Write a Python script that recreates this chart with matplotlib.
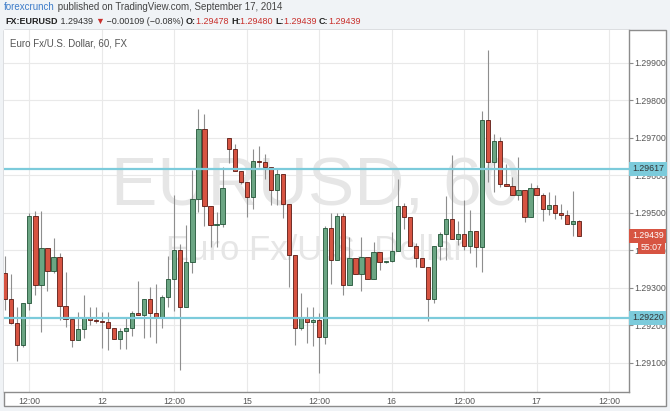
import matplotlib
matplotlib.use("Agg")
import matplotlib.pyplot as plt
from matplotlib.patches import Rectangle
from matplotlib.ticker import FormatStrFormatter
import matplotlib.transforms as mtransforms
import numpy as np

# ---------------- data (EUR/USD, 60 min candles) ----------------
opens = [1.29339, 1.29270, 1.29206, 1.29147, 1.29259, 1.29492, 1.29307, 1.29405, 1.29345, 1.29382,
         1.29252, 1.29216, 1.29160, 1.29191, 1.29222, 1.29215, 1.29212, 1.29210, 1.29193, 1.29163,
         1.29186, 1.29193, 1.29232, 1.29229, 1.29270, 1.29232, 1.29222, 1.29275, 1.29323, 1.29400,
         1.29249, 1.29369, 1.29537, 1.29722, 1.29518, 1.29468, 1.29469, 1.29699, 1.29671, 1.29611,
         1.29581, 1.29543, 1.29638, 1.29636, 1.29621, 1.29561, 1.29603, 1.29524, 1.29388, 1.29192,
         1.29221, 1.29210, 1.29215, 1.29170, 1.29459, 1.29373, 1.29492, 1.29309, 1.29379, 1.29337,
         1.29381, 1.29324, 1.29395, 1.29369, 1.29372, 1.29398, 1.29518, 1.29488, 1.29412, 1.29379,
         1.29355, 1.29271, 1.29412, 1.29443, 1.29483, 1.29430, 1.29444, 1.29412, 1.29451, 1.29408,
         1.29747, 1.29636, 1.29691, 1.29577, 1.29572, 1.29547, 1.29561, 1.29488, 1.29567, 1.29547,
         1.29510, 1.29520, 1.29499, 1.29493, 1.29469, 1.29478]
highs = [1.29385, 1.29337, 1.29250, 1.29259, 1.29500, 1.29506, 1.29506, 1.29405, 1.29433, 1.29393,
         1.29342, 1.29216, 1.29236, 1.29281, 1.29249, 1.29249, 1.29236, 1.29237, 1.29193, 1.29193,
         1.29223, 1.29239, 1.29318, 1.29270, 1.29302, 1.29310, 1.29281, 1.29385, 1.29547, 1.29417,
         1.29468, 1.29614, 1.29777, 1.29763, 1.29518, 1.29502, 1.29623, 1.29699, 1.29683, 1.29611,
         1.29581, 1.29669, 1.29678, 1.29656, 1.29621, 1.29616, 1.29603, 1.29524, 1.29388, 1.29287,
         1.29250, 1.29250, 1.29232, 1.29465, 1.29499, 1.29499, 1.29499, 1.29435, 1.29379, 1.29435,
         1.29381, 1.29422, 1.29395, 1.29372, 1.29450, 1.29589, 1.29525, 1.29488, 1.29419, 1.29379,
         1.29355, 1.29412, 1.29450, 1.29545, 1.29654, 1.29479, 1.29534, 1.29508, 1.29451, 1.29772,
         1.29934, 1.29710, 1.29703, 1.29630, 1.29596, 1.29648, 1.29561, 1.29580, 1.29573, 1.29552,
         1.29556, 1.29547, 1.29524, 1.29508, 1.29559, 1.29480]
lows = [1.29241, 1.29204, 1.29106, 1.29143, 1.29241, 1.29281, 1.29182, 1.29292, 1.29340, 1.29215,
        1.29197, 1.29143, 1.29160, 1.29167, 1.29201, 1.29207, 1.29141, 1.29134, 1.29163, 1.29136,
        1.29136, 1.29172, 1.29229, 1.29166, 1.29170, 1.29154, 1.29193, 1.29250, 1.29238, 1.29081,
        1.29249, 1.29341, 1.29502, 1.29466, 1.29408, 1.29410, 1.29461, 1.29632, 1.29611, 1.29576,
        1.29490, 1.29509, 1.29621, 1.29589, 1.29521, 1.29521, 1.29485, 1.29303, 1.29148, 1.29188,
        1.29152, 1.29145, 1.29074, 1.29151, 1.29310, 1.29373, 1.29280, 1.29309, 1.29337, 1.29293,
        1.29324, 1.29324, 1.29348, 1.29366, 1.29369, 1.29398, 1.29456, 1.29412, 1.29355, 1.29355,
        1.29213, 1.29260, 1.29374, 1.29374, 1.29430, 1.29414, 1.29401, 1.29392, 1.29357, 1.29343,
        1.29583, 1.29556, 1.29570, 1.29572, 1.29547, 1.29534, 1.29476, 1.29488, 1.29547, 1.29479,
        1.29494, 1.29483, 1.29484, 1.29469, 1.29439, 1.29439]
closes = [1.29270, 1.29206, 1.29147, 1.29259, 1.29492, 1.29307, 1.29405, 1.29345, 1.29382, 1.29252,
          1.29216, 1.29160, 1.29191, 1.29222, 1.29215, 1.29212, 1.29210, 1.29193, 1.29163, 1.29186,
          1.29193, 1.29232, 1.29229, 1.29270, 1.29232, 1.29222, 1.29275, 1.29323, 1.29400, 1.29249,
          1.29369, 1.29537, 1.29722, 1.29518, 1.29468, 1.29469, 1.29567, 1.29671, 1.29611, 1.29581,
          1.29543, 1.29638, 1.29636, 1.29621, 1.29561, 1.29603, 1.29524, 1.29388, 1.29192, 1.29221,
          1.29210, 1.29215, 1.29170, 1.29459, 1.29373, 1.29492, 1.29309, 1.29379, 1.29337, 1.29381,
          1.29324, 1.29395, 1.29369, 1.29372, 1.29398, 1.29518, 1.29488, 1.29412, 1.29379, 1.29355,
          1.29271, 1.29412, 1.29443, 1.29483, 1.29430, 1.29444, 1.29412, 1.29451, 1.29408, 1.29747,
          1.29636, 1.29691, 1.29577, 1.29572, 1.29547, 1.29561, 1.29488, 1.29567, 1.29547, 1.29510,
          1.29520, 1.29499, 1.29493, 1.29469, 1.29478, 1.29439]

time_tick_pos = [4, 16, 28, 40, 52, 64, 76, 88, 100]
time_tick_labels = ["12:00", "12", "12:00", "15", "12:00", "16", "12:00", "17", "12:00"]
price_ticks = [1.291, 1.292, 1.293, 1.294, 1.295, 1.296, 1.297, 1.298, 1.299]
level_lines = [1.29617, 1.29220]
last_price = 1.29439
countdown = "55:07"

# ---------------- figure ----------------
W, H = 670, 411
FONT = ["Liberation Sans", "DejaVu Sans"]
plt.rcParams["font.family"] = FONT

fig = plt.figure(figsize=(W / 100, H / 100), dpi=100)
fig.patch.set_facecolor("#f0f3f6")


def fx(px):
    return px / W


def fy(py):
    return 1 - py / H


frame = Rectangle((fx(4), fy(406)), fx(666) - fx(4), fy(30) - fy(406),
                  transform=fig.transFigure, facecolor="white",
                  edgecolor="#8c8c8c", lw=1.0, zorder=-5)
fig.patches.append(frame)

ax = fig.add_axes([fx(4), fy(392), (629 - 4) / W, (392 - 30) / H])
ax.set_zorder(1)
ax.set_facecolor("white")
for s in ["top", "left"]:
    ax.spines[s].set_visible(False)
for s in ["right", "bottom"]:
    ax.spines[s].set_color("#8c8c8c")
    ax.spines[s].set_linewidth(1.0)

o = np.array(opens)
h = np.array(highs)
l = np.array(lows)
c = np.array(closes)
x = np.arange(len(o))
up = c >= o
bottom = np.minimum(o, c)
height = np.maximum(np.abs(c - o), 0.000012)

# watermark
ax.text(0.499, 0.566, "EURUSD, 60", transform=ax.transAxes, ha="center", va="center",
        fontsize=50, color="#e6e6e6", zorder=1)
ax.text(0.499, 0.392, "Euro Fx/U.S. Dollar", transform=ax.transAxes, ha="center", va="center",
        fontsize=25, color="#e6e6e6", zorder=1)

ax.vlines(x, l, h, color="#8e8e8e", lw=0.8, zorder=3)
ax.bar(x[up], height[up], bottom=bottom[up], width=0.7, color="#6ba583",
       edgecolor="#225437", linewidth=0.6, zorder=4)
ax.bar(x[~up], height[~up], bottom=bottom[~up], width=0.7, color="#d75442",
       edgecolor="#5b1a13", linewidth=0.6, zorder=4)

for lv in level_lines:
    ax.axhline(lv, color="#7ccbdb", lw=1.6, zorder=5)

ax.set_xlim(-0.2, 103.3)
ax.set_ylim(1.290227, 1.29987)

ax.set_xticks(time_tick_pos)
ax.set_xticklabels(time_tick_labels)
ax.set_yticks(price_ticks)
ax.yaxis.set_major_formatter(FormatStrFormatter("%.5f"))
ax.yaxis.tick_right()
ax.tick_params(axis="y", direction="out", length=3, width=0.8, color="#8c8c8c",
               labelsize=6.3, labelcolor="#555555", pad=1)
ax.tick_params(axis="x", length=0, labelsize=6.3, labelcolor="#555555", pad=3.5)
ax.grid(True, color="#e9e9e9", lw=0.8, zorder=0)
ax.set_axisbelow(True)

# right-axis highlight labels
btrans = mtransforms.blended_transform_factory(ax.transAxes, ax.transData)
for lv in level_lines:
    ax.annotate(f"{lv:.5f}", xy=(1.0, lv), xycoords=btrans, xytext=(2.2, 0),
                textcoords="offset points", ha="left", va="center", fontsize=6.3,
                color="#333333", annotation_clip=False, zorder=10,
                bbox=dict(boxstyle="square,pad=0.3", fc="#7ccbdb", ec="none"))
ax.annotate(f"{last_price:.5f}", xy=(1.0, last_price), xycoords=btrans, xytext=(2.2, 0),
            textcoords="offset points", ha="left", va="center", fontsize=6.3,
            color="white", annotation_clip=False, zorder=10,
            bbox=dict(boxstyle="square,pad=0.3", fc="#d75442", ec="none"))
ax.annotate(countdown, xy=(1.0, last_price), xycoords=btrans, xytext=(8.5, -8.3),
            textcoords="offset points", ha="left", va="center", fontsize=6.3,
            color="white", annotation_clip=False, zorder=10,
            bbox=dict(boxstyle="square,pad=0.3", fc="#d75442", ec="none"))

# ---------------- header ----------------
renderer = fig.canvas.get_renderer()


def seq(pieces, x0, y0, size):
    xx = x0
    for s, col, wt in pieces:
        t = fig.text(fx(xx), fy(y0), s, color=col, fontsize=size, fontweight=wt,
                     ha="left", va="center", family=FONT)
        bb = t.get_window_extent(renderer=renderer)
        xx += bb.width


seq([("forexcrunch", "#3d7cc9", "normal"),
     (" published on TradingView.com, September 17, 2014", "#444444", "normal")],
    4, 7, 7.0)
red = "#c9302c"
seq([("FX:EURUSD", "#222222", "bold"), (" 1.29439 ", "#333333", "normal"),
     ("\u25BC", red, "normal"), (" \u22120.00109 (\u22120.08%) ", "#333333", "normal"),
     ("O:", "#222222", "bold"), ("1.29478 ", red, "normal"),
     ("H:", "#222222", "bold"), ("1.29480 ", red, "normal"),
     ("L:", "#222222", "bold"), ("1.29439 ", red, "normal"),
     ("C:", "#222222", "bold"), ("1.29439", red, "normal")],
    5, 21, 6.5)

fig.text(fx(10), fy(43), "Euro Fx/U.S. Dollar, 60, FX", color="#555555", fontsize=7.0,
         ha="left", va="center", family=FONT)

fig.savefig("out.png", dpi=100, facecolor=fig.get_facecolor())
